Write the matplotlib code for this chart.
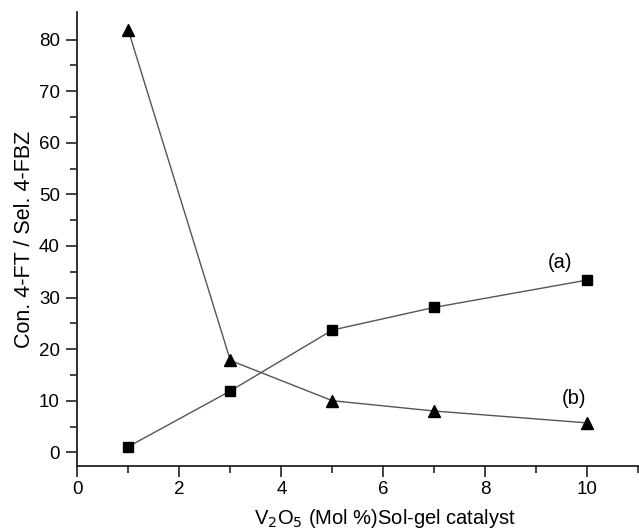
import matplotlib
matplotlib.use("Agg")
import matplotlib.pyplot as plt
from matplotlib.ticker import MultipleLocator, FixedLocator

plt.rcParams['font.family'] = ['Liberation Sans', 'DejaVu Sans']

x_vals = [1, 3, 5, 7, 10]
conv_a = [1.1, 11.9, 23.7, 28.1, 33.4]
sel_b = [81.8, 17.8, 10.0, 8.0, 5.7]
label_a = "(a)"
label_b = "(b)"
xlabel = r"V$_2$O$_5$ (Mol %)Sol-gel catalyst"
ylabel = "Con. 4-FT / Sel. 4-FBZ"

fig = plt.figure(figsize=(6.39, 5.32), dpi=100)
ax = fig.add_axes([0.121, 0.1241, 0.879, 0.8528])

ax.plot(x_vals, conv_a, color="#555555", lw=1.0, marker="s", ms=7,
        mfc="black", mec="black", zorder=3)
ax.plot(x_vals, sel_b, color="#555555", lw=1.0, marker="^", ms=8.5,
        mfc="black", mec="black", zorder=3)

ax.text(9.46, 36.8, label_a, ha="center", va="center", fontsize=14.5)
ax.text(9.73, 10.4, label_b, ha="center", va="center", fontsize=14.5)

ax.set_xlim(0, 11.01)
ax.set_ylim(-2.65, 85.3)
ax.xaxis.set_major_locator(MultipleLocator(2))
ax.xaxis.set_minor_locator(FixedLocator([1, 3, 5, 7, 9, 11]))
ax.yaxis.set_major_locator(MultipleLocator(10))
ax.yaxis.set_minor_locator(FixedLocator([5, 15, 25, 35, 45, 55, 65, 75]))

for s in ["top", "right"]:
    ax.spines[s].set_visible(False)
for s in ["left", "bottom"]:
    ax.spines[s].set_linewidth(1.3)
    ax.spines[s].set_color("#222222")

ax.tick_params(which="major", direction="out", length=8, width=1.2,
               labelsize=13.5, color="#222222")
ax.tick_params(axis="x", which="major", pad=3)
ax.tick_params(axis="y", which="major", pad=4.5)
ax.tick_params(which="minor", direction="out", length=5, width=1.2,
               color="#222222")

ax.set_xlabel(xlabel, fontsize=14.5, va="baseline")
ax.xaxis.set_label_coords(0.547, -0.128)
ax.set_ylabel(ylabel, fontsize=15.5, labelpad=3)

fig.savefig("out.png", dpi=100)
